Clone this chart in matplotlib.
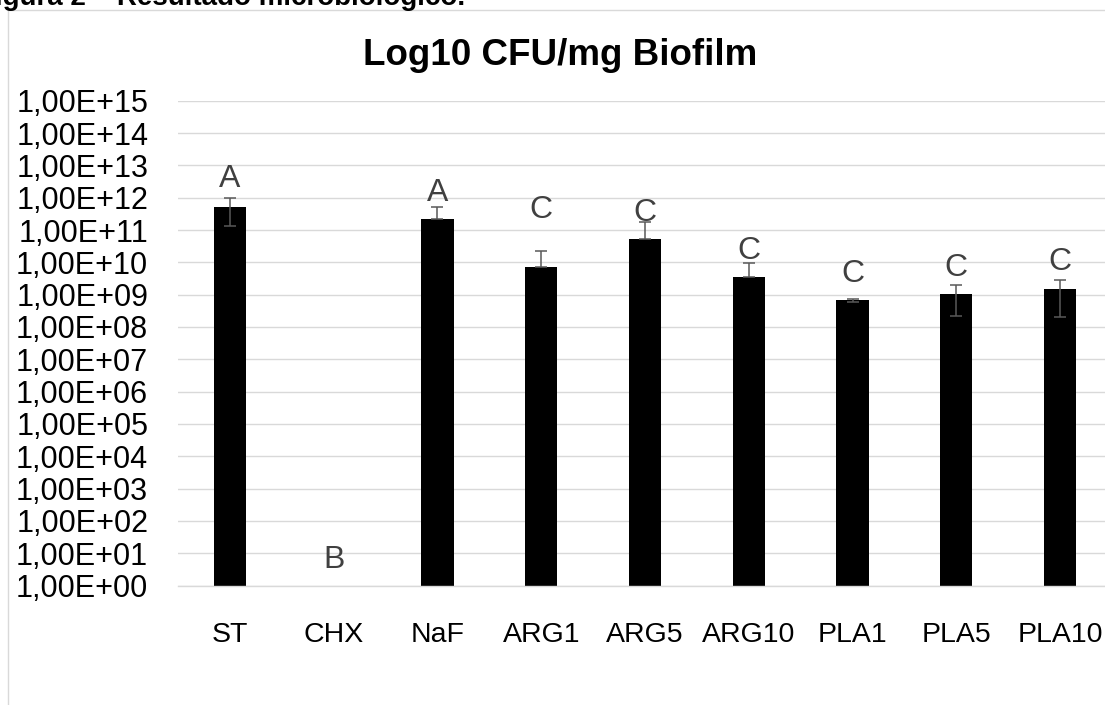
import matplotlib
matplotlib.use("Agg")
import matplotlib.pyplot as plt
from matplotlib.patches import Rectangle
from matplotlib.ticker import FixedLocator, FuncFormatter
import numpy as np

plt.rcParams['font.family'] = ['Liberation Sans', 'DejaVu Sans']

# grupos e médias (UFC/mg de biofilme)
grupos = ['ST', 'CHX', 'NaF', 'ARG1', 'ARG5', 'ARG10', 'PLA1', 'PLA5', 'PLA10']
medias = [5.25e11, 0, 2.13e11, 7.3e9, 5.25e10, 3.5e9, 6.6e8, 1.07e9, 1.45e9]
erro_inf = [3.9e11, 0, 0, 0, 0, 0, 0.6e8, 0.85e9, 1.24e9]
erro_sup = [4.75e11, 0, 3.1e11, 1.45e10, 1.28e11, 5.8e9, 1.0e8, 0.93e9, 1.3e9]

# letras de significância e altura (base do texto) de cada uma
letras = ['A', 'B', 'A', 'C', 'C', 'C', 'C', 'C', 'C']
letras_y = [2.1e12, 3.5, 8.1e11, 2.35e11, 1.85e11, 1.26e10, 2.45e9, 3.85e9, 5.6e9]

W, H = 1105, 705
fig = plt.figure(figsize=(W / 100, H / 100), dpi=100)

# legenda da figura no documento (cortada no topo)
fig.text(-22 / W, 1 - 5 / H, 'Figura 2 – Resultado microbiológico.', fontsize=20,
         fontweight='bold', ha='left', va='baseline')

# moldura do gráfico
fig.add_artist(Rectangle((8 / W, -0.1), 1.2, 1.1 - 9.5 / H, transform=fig.transFigure,
                         fill=False, edgecolor='#d9d9d9', linewidth=1.0))

ax = fig.add_axes([178 / W, 1 - 585.6 / H, 934 / W, (585.6 - 100.7) / H])
ax.set_yscale('log')
ax.set_ylim(1, 1e15)
ax.set_xlim(-0.5, len(grupos) - 0.5)

x = np.arange(len(grupos))
ax.bar(x, medias, width=0.31, color='black', zorder=2)
ax.errorbar(x, medias, yerr=[erro_inf, erro_sup], fmt='none', ecolor='#595959',
            elinewidth=1.1, capsize=4.5, capthick=1.1, zorder=3)

for xi, letra, yl in zip(x, letras, letras_y):
    ax.text(xi, yl, letra, ha='center', va='baseline', fontsize=23, color='#404040',
            zorder=4)

ax.yaxis.set_major_locator(FixedLocator([10.0 ** k for k in range(16)]))
ax.yaxis.set_minor_locator(FixedLocator([]))
ax.yaxis.set_major_formatter(FuncFormatter(lambda v, p: '1,00E+%02d' % round(np.log10(v))))
ax.set_xticks(x)
ax.set_xticklabels(grupos)
ax.tick_params(axis='y', length=0, pad=21.5, labelsize=22)
ax.tick_params(axis='x', length=0, pad=26.5, labelsize=20.5)

ax.grid(axis='y', color='#d9d9d9', linewidth=1.0, zorder=0)
ax.set_axisbelow(True)
for lado in ['top', 'right', 'left']:
    ax.spines[lado].set_visible(False)
ax.spines['bottom'].set_color('#d9d9d9')
ax.spines['bottom'].set_linewidth(1.0)

fig.text(560 / W, 1 - 65 / H, 'Log10 CFU/mg Biofilm', fontsize=26.5, fontweight='bold',
         ha='center', va='baseline')

fig.savefig('out.png', dpi=100)
